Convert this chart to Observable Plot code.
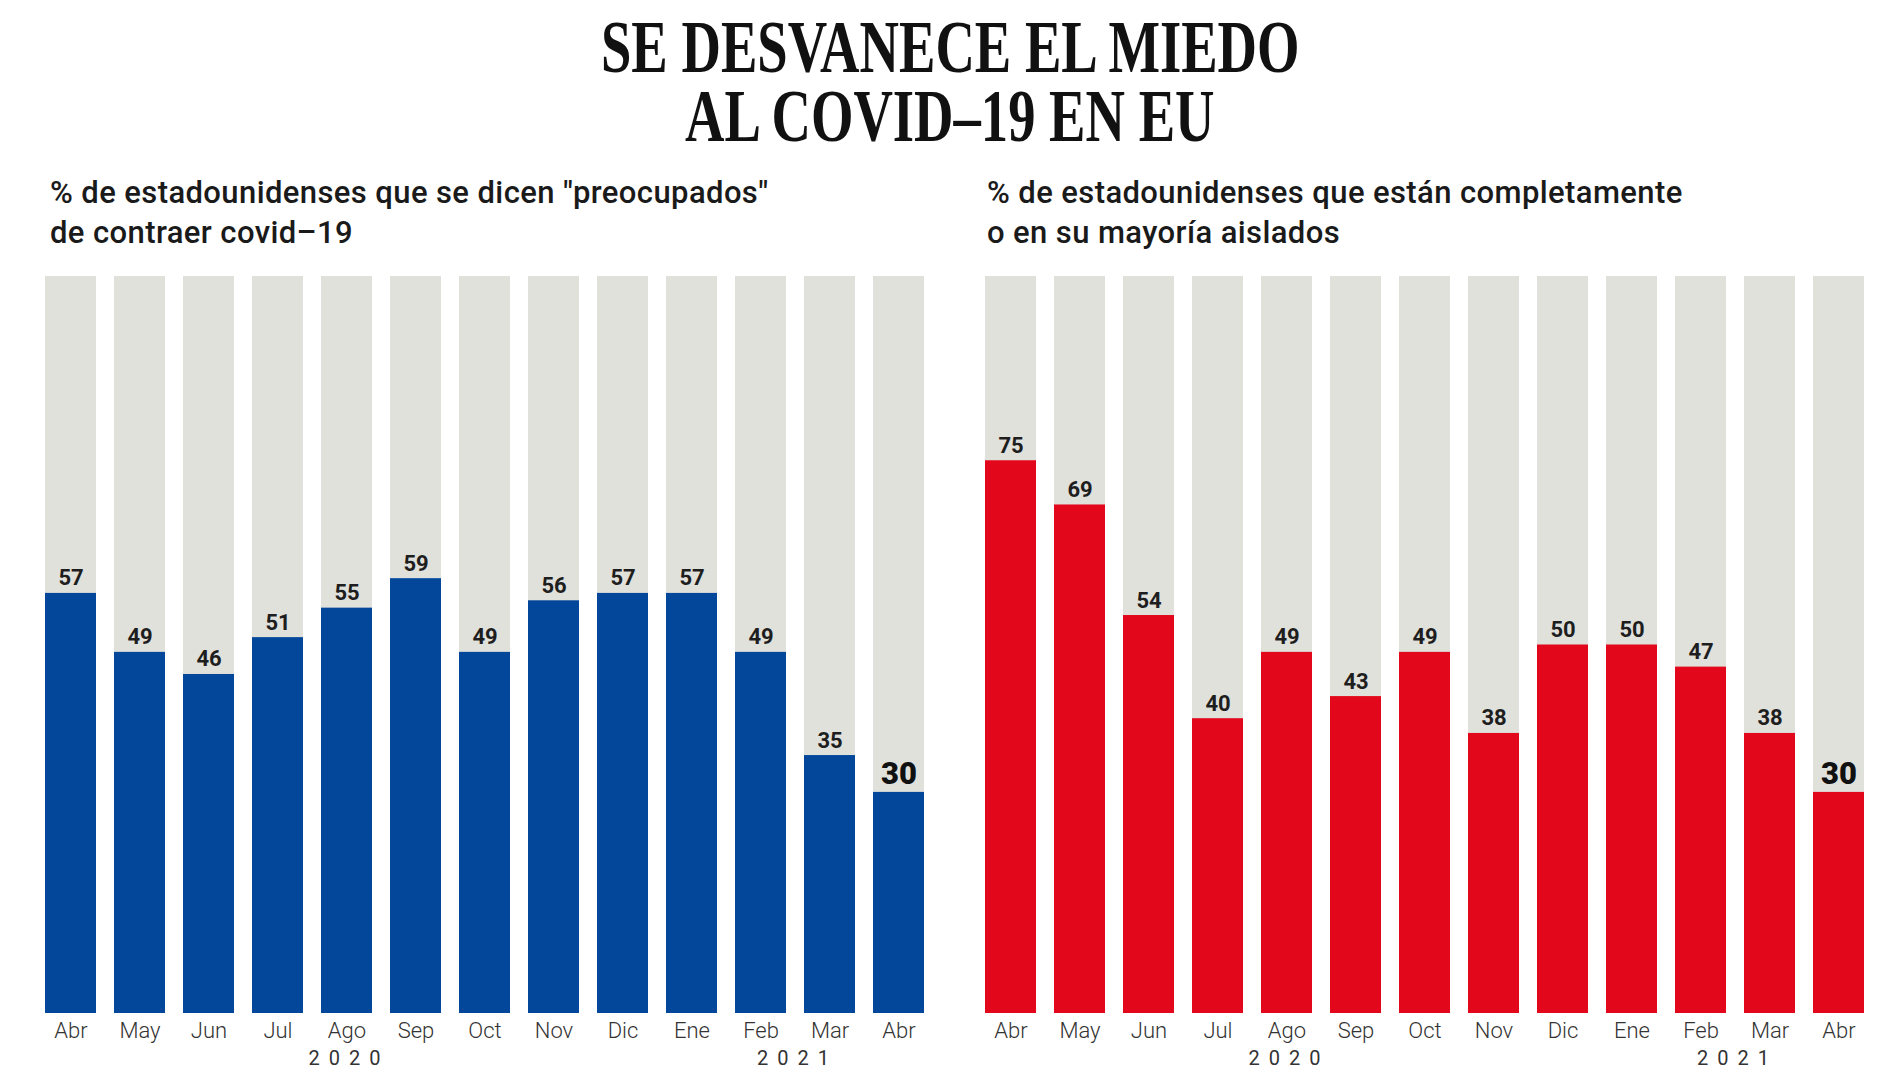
<!DOCTYPE html>
<html>
<head>
<meta charset="utf-8">
<script src="https://cdn.jsdelivr.net/npm/d3@7"></script>
<script src="https://cdn.jsdelivr.net/npm/@observablehq/plot@0.6"></script>
<style>
  html, body { margin: 0; padding: 0; background: #fff; }
  #page { position: relative; width: 1900px; height: 1068px; overflow: hidden; background: #fff; }
  .title { position: absolute; left: 0; width: 1900px; height: 69px; overflow: visible; text-align: center; font-family: "Liberation Serif", serif; font-weight: bold; font-size: 74px; line-height: 69px; color: #111; }
  .title span { display: inline-block; height: 69px; line-height: 69px; transform: scaleX(0.738); transform-origin: center; white-space: nowrap; }
  .sub { position: absolute; font-family: Roboto, sans-serif; font-weight: 500; font-size: 31px; line-height: 40px; color: #1a1a1a; white-space: nowrap; letter-spacing: 0.4px; }
  .chart { position: absolute; top: 256px; }
  .year-label text { letter-spacing: 9px; }
</style>
</head>
<body>
<div id="page">
  <div class="title" style="top:13px"><span>SE DESVANECE EL MIEDO</span></div>
  <div class="title" style="top:82px"><span>AL COVID–19 EN EU</span></div>
  <div class="sub" style="left:50px; top:173px">% de estadounidenses que se dicen "preocupados"<br>de contraer covid–19</div>
  <div class="sub" style="left:987px; top:173px">% de estadounidenses que están completamente<br>o en su mayoría aislados</div>
  <div class="chart" id="left" style="left:0px"></div>
  <div class="chart" id="right" style="left:950px"></div>
</div>
<script>
const months = ["Abr","May","Jun","Jul","Ago","Sep","Oct","Nov","Dic","Ene","Feb","Mar","Abr"];
const worried = [57,49,46,51,55,59,49,56,57,57,49,35,30];
const isolated = [75,69,54,40,49,43,49,38,50,50,47,38,30];
const yearLabels = ["2020","2021"];
const yearSpans = [[0,8],[9,12]];
const fullScale = 100;

const W = 950, H = 812, PAD = 0.261;

function chart(values, color, marginLeft, marginRight) {
  const data = values.map((v, i) => ({i, m: months[i], v, full: fullScale}));
  const last = data.length - 1;
  const inner = W - marginLeft - marginRight;
  const step = inner / (data.length - PAD);
  const yearMarks = yearLabels.map((label, k) => {
    const mid = (yearSpans[k][0] + yearSpans[k][1]) / 2;
    const base = Math.floor(mid);
    return Plot.text([{x: base, label}], {
      x: "x", text: "label", frameAnchor: "bottom", dy: 51, dx: (mid - base) * step + 2,
      lineAnchor: "bottom", fontSize: 20, fill: "#333", fontWeight: 400, className: "year-label"
    });
  });
  return Plot.plot({
    width: W, height: H,
    marginTop: 20, marginBottom: 55, marginLeft, marginRight,
    x: {type: "band", domain: d3.range(data.length), paddingInner: PAD, paddingOuter: 0, align: 0.5},
    y: {domain: [0, fullScale], axis: null},
    style: {fontFamily: "Roboto, sans-serif", background: "transparent", overflow: "visible"},
    marks: [
      Plot.barY(data, {x: "i", y: "full", fill: "#e1e1dc"}),
      Plot.barY(data, {x: "i", y: "v", fill: color}),
      Plot.text(data.filter(d => d.i !== last), {x: "i", y: "v", text: d => String(d.v), dy: -8, lineAnchor: "bottom", fontSize: 22, fontWeight: "bold", fill: "#1e1e1e"}),
      Plot.text(data.filter(d => d.i === last), {x: "i", y: "v", text: d => String(d.v), dy: -8, lineAnchor: "bottom", fontSize: 31, fontWeight: 900, fill: "#111"}),
      Plot.axisX({tickSize: 0, tickPadding: 9, tickFormat: i => months[i], fontSize: 22, fill: "#333", fontWeight: 300, label: null}),
      ...yearMarks
    ]
  });
}

document.getElementById("left").appendChild(chart(worried, "#03479a", 45, 26));
document.getElementById("right").appendChild(chart(isolated, "#e2071a", 35, 36));
</script>
</body>
</html>
